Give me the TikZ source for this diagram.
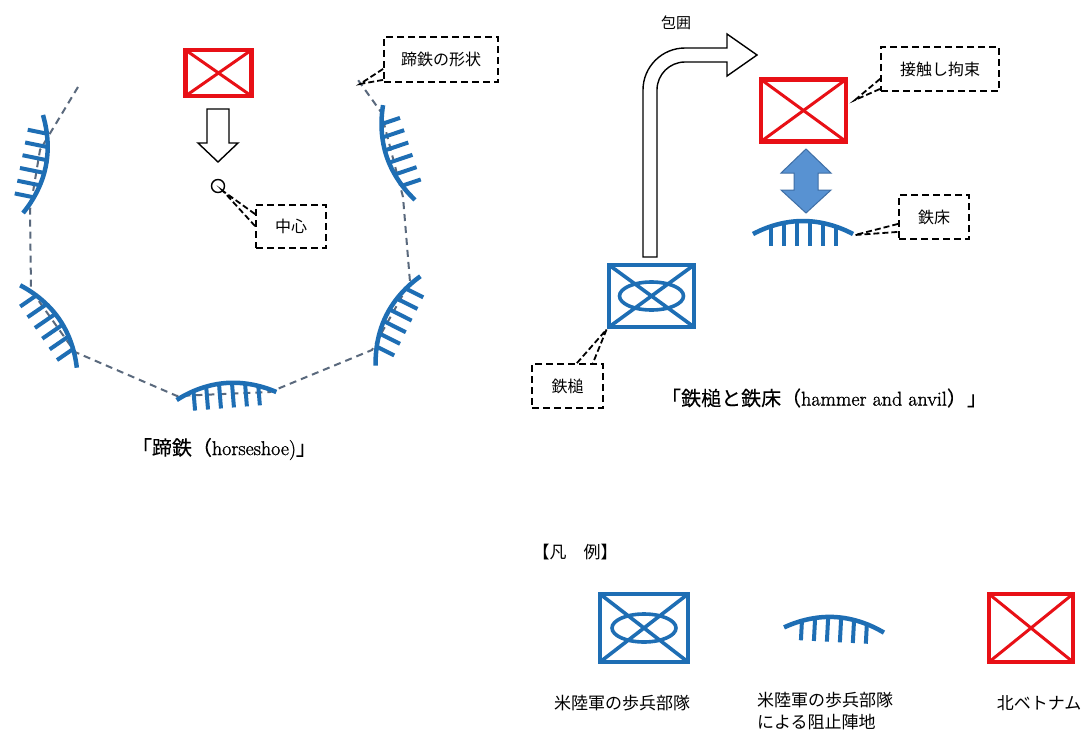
\documentclass[tikz,border=0pt]{standalone}
\usepackage{fontspec}
\newfontfamily\jp{Noto Sans CJK JP}
\newfontfamily\capfont{Latin Modern Roman}[FakeBold=1.2]
\newfontfamily\jpcap{Noto Sans CJK JP}[FakeBold=0.3]
\usetikzlibrary{calc}

\definecolor{armyblue}{RGB}{30,110,180}
\definecolor{enemyred}{RGB}{232,16,22}
\definecolor{ringdash}{RGB}{90,105,125}
\definecolor{arrowfill}{RGB}{88,146,210}
\definecolor{arrowedge}{RGB}{62,110,165}

\tikzset{
  enemy/.style={draw=enemyred, line width=4.5pt, inner sep=0pt,
    path picture={\draw[enemyred, line width=3pt]
      (path picture bounding box.north west) -- (path picture bounding box.south east)
      (path picture bounding box.north east) -- (path picture bounding box.south west);}},
  infantry/.style={draw=armyblue, line width=4.8pt, inner sep=0pt,
    path picture={\draw[armyblue, line width=3.6pt]
      (path picture bounding box.north west) -- (path picture bounding box.south east)
      (path picture bounding box.north east) -- (path picture bounding box.south west)
      (path picture bounding box.center) ellipse [x radius=32pt, y radius=14pt];}},
  note/.style={draw, line width=1.8pt, dash pattern=on 7pt off 4pt, inner sep=0pt,
    font=\jp\fontsize{16}{20}\selectfont},
  notept/.style={draw, line width=1.8pt, dash pattern=on 6pt off 3pt},
  jptext/.style={inner sep=0pt, font=\jp\fontsize{17}{22}\selectfont},
  caption/.style={inner sep=0pt, font=\capfont\fontsize{20}{24}\selectfont},
  ring/.style={draw=ringdash, line width=2pt, dash pattern=on 7pt off 5pt},
  hollow/.style={draw=black, line width=1.4pt, fill=white, line join=miter},
  barrier/.pic={
    \draw[armyblue, line width=4.5pt] (-50,0) parabola bend (0,-13) (50,0);
    \foreach \t in {-32.5,-19.5,-6.5,6.5,19.5,32.5}{
      \draw[armyblue, line width=4pt] (\t,{-13+13*(\t/50)*(\t/50)}) -- (\t,12);
    }
  }
}

\begin{document}
\begin{tikzpicture}[x=1pt, y=-1pt]
\fill[white] (0,0) rectangle (1081,733);
\useasboundingbox (0,0) rectangle (1081,733);

% ---------- horseshoe ----------
\draw[ring] (78,87) -- (40,150) -- (30,210) -- (31,290) -- (75,352) -- (177,396)
  -- (270,392) -- (372,350) -- (410,282) -- (403,197) -- (381,112) -- (358,80);

\pic[rotate=-101.5] at (33,164) {barrier};
\pic[rotate=-55.5] at (48.5,326.5) {barrier};
\pic[rotate=4.6] at (226.5,396) {barrier};
\pic[rotate=63.4] at (398,321) {barrier};
\pic[rotate=108.6] at (399,152.5) {barrier};

\node[enemy, minimum width=66pt, minimum height=46pt] (foe) at (218.5,73) {};
\draw[hollow] (207,109) -- (229,109) -- (229,143) -- (238,143) -- (218,162)
  -- (198,143) -- (207,143) -- cycle;
\node[circle, draw, line width=1.4pt, minimum size=13pt, inner sep=0pt] (ctr) at (218,186) {};

\node[note, minimum width=70pt, minimum height=43pt] (ctrnote) at (291,226.5) {中心};
\draw[notept] ($(ctrnote.north west)+(0,10)$) -- (ctr.south east) -- ($(ctrnote.north west)+(0,22)$);

\node[note, minimum width=114pt, minimum height=45pt] (shape) at (441,59.5) {蹄鉄の形状};
\coordinate (shapetip) at (360,84);
\draw[notept] ($(shape.south west)+(0,-14)$) -- (shapetip) -- ($(shape.south west)+(0,-3)$);

\node[caption] (hstitle) at (224,449) {{\jpcap 「蹄鉄（}horseshoe){\jpcap 」}};

% ---------- hammer and anvil ----------
\node[jptext, font=\jp\fontsize{15}{18}\selectfont] (encircle) at (676,23) {包囲};

\draw[hollow] (643,257) -- (643,90) arc[start angle=180, end angle=270, radius=42]
  -- (727,48) -- (727,34) -- (757,55) -- (727,76) -- (727,62) -- (685,62)
  arc[start angle=270, end angle=180, radius=28] -- (657,257) -- cycle;

\node[enemy, minimum width=85pt, minimum height=62pt] (foe2) at (803.5,110.5) {};

\draw[arrowedge, fill=arrowfill, line width=1pt] (806,149) -- (831,173) -- (818,173)
  -- (818,190) -- (831,190) -- (806,213) -- (781,190) -- (794,190) -- (794,173)
  -- (781,173) -- cycle;

\pic at (803,234) {barrier};
\coordinate (anviltip) at (855,235);
\coordinate (contacttip) at (855,100);

\node[note, minimum width=118pt, minimum height=44pt] (contact) at (940,69) {接触し拘束};
\draw[notept] ($(contact.south west)+(0,-13)$) -- (contacttip) -- ($(contact.south west)+(0,-3)$);

\node[note, minimum width=70pt, minimum height=44pt] (anvil) at (934,217) {鉄床};
\draw[notept] ($(anvil.south west)+(0,-16)$) -- (anviltip) -- ($(anvil.south west)+(0,-8)$);

\node[infantry, minimum width=85pt, minimum height=62pt] (hammer) at (651.5,296) {};

\node[note, minimum width=71pt, minimum height=44pt] (hammernote) at (567.5,386) {鉄槌};
\draw[notept] ($(hammernote.north east)+(-27,0)$) -- (hammer.south west) -- ($(hammernote.north east)+(-11,0)$);

\node[caption] (hatitle) at (824,398) {{\jpcap 「鉄槌と鉄床（}hammer and anvil{\jpcap ）」}};

% ---------- legend ----------
\node[jptext, font=\jp\fontsize{17}{20}\selectfont] (legend) at (575,552) {【凡　例】};

\node[infantry, minimum width=88pt, minimum height=68pt] (keyinf) at (644,628) {};
\pic[rotate=-3] at (834,630) {barrier};
\node[enemy, minimum width=84pt, minimum height=68pt] (keyfoe) at (1031,628) {};

\node[jptext] (keyinflabel) at (622,703) {米陸軍の歩兵部隊};
\node[jptext, align=left, anchor=north west] (keybarlabel) at (757,692) {米陸軍の歩兵部隊\\による阻止陣地};
\node[jptext] (keyfoelabel) at (1039,703) {北ベトナム};
\end{tikzpicture}
\end{document}
